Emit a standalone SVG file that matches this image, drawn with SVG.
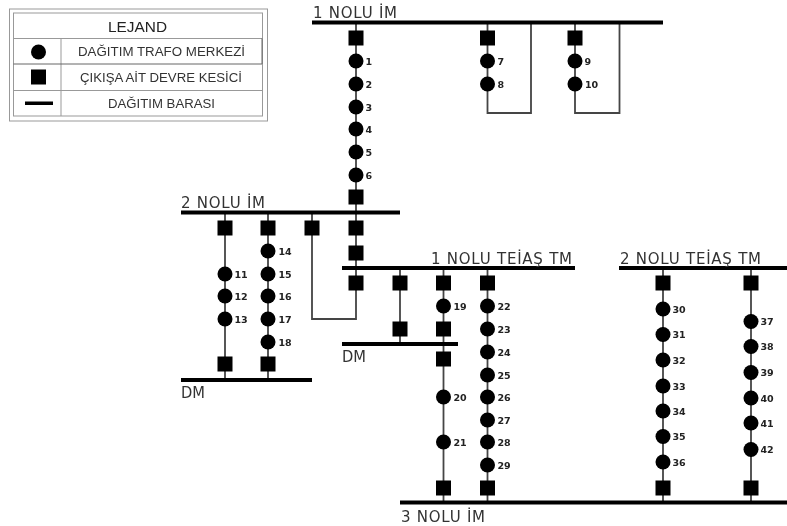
<svg xmlns="http://www.w3.org/2000/svg" width="787" height="526" viewBox="0 0 787 526">
<style>
.bar{stroke:#000;stroke-width:4;fill:none}
.wire{stroke:#444;stroke-width:1.8;fill:none}
.t{font-family:"DejaVu Sans",sans-serif;font-size:15px;fill:#333}
.n{font-family:"DejaVu Sans",sans-serif;font-size:9.5px;font-weight:bold;fill:#222}
.l{font-family:"Liberation Sans",Arial,sans-serif;font-size:12.500px;fill:#333}
.lb{fill:none;stroke:#999;stroke-width:1}
</style>
<defs>
<rect id="s" x="-7.500" y="-7.500" width="15" height="15" fill="#000"/>
<circle id="c" r="7.500" fill="#000"/>
<filter id="b" x="0" y="0" width="100%" height="100%"><feGaussianBlur stdDeviation="0.7"/></filter>
</defs>
<rect width="787" height="526" fill="#fff"/>
<g filter="url(#b)">
<g id="legend">
<rect class="lb" x="9.500" y="9" width="258" height="112"/>
<rect class="lb" x="13.500" y="13" width="249" height="103"/>
<path class="lb" d="M13.500 38.500H262.500M61 38.500V116M13.500 90.500H262.500"/>
<path d="M13.500 64H262M262 38.500V64" stroke="#666" fill="none"/>
<text x="108" y="32" textLength="59" lengthAdjust="spacingAndGlyphs" style="font-family:'Liberation Sans',Arial,sans-serif;font-size:15px;fill:#222">LEJAND</text>
<use href="#c" x="38.500" y="52"/>
<use href="#s" x="38.500" y="77"/>
<rect x="25" y="101.500" width="28" height="3.500" fill="#000"/>
<text class="l" x="78" y="56" textLength="167" lengthAdjust="spacingAndGlyphs">DAĞITIM TRAFO MERKEZİ</text>
<text class="l" x="80" y="82" textLength="162" lengthAdjust="spacingAndGlyphs">ÇIKIŞA AİT DEVRE KESİCİ</text>
<text class="l" x="108" y="107.500" textLength="107" lengthAdjust="spacingAndGlyphs">DAĞITIM BARASI</text>
</g>
<g id="connectors">
<path class="wire" d="M356 22V319H312V212"/>
<path class="wire" d="M487.500 22V113H531V22"/>
<path class="wire" d="M575 22V113H619.500V22"/>
<path class="wire" d="M225 212V380"/>
<path class="wire" d="M268 212V380"/>
<path class="wire" d="M400 268V344"/>
<path class="wire" d="M443.500 268V502"/>
<path class="wire" d="M487.500 268V502"/>
<path class="wire" d="M663 268V502"/>
<path class="wire" d="M751 268V502"/>
</g>
<g id="bus-1"><path class="bar" d="M312 22.500H663"/><text class="t" x="313" y="18" textLength="84" lengthAdjust="spacing">1 NOLU İM</text></g>
<g id="bus-2"><path class="bar" d="M181 212.500H400"/><text class="t" x="181" y="208" textLength="84" lengthAdjust="spacing">2 NOLU İM</text></g>
<g id="bus-teias-1"><path class="bar" d="M342 268H575"/><text class="t" x="431" y="263.500" textLength="141" lengthAdjust="spacing">1 NOLU TEİAŞ TM</text></g>
<g id="bus-teias-2"><path class="bar" d="M619 268H787"/><text class="t" x="620" y="263.500" textLength="141" lengthAdjust="spacing">2 NOLU TEİAŞ TM</text></g>
<g id="bus-dm-left"><path class="bar" d="M181 380H312"/><text class="t" x="181" y="397.500" textLength="24" lengthAdjust="spacingAndGlyphs">DM</text></g>
<g id="bus-dm-mid"><path class="bar" d="M342 344H458"/><text class="t" x="342" y="362" textLength="24" lengthAdjust="spacingAndGlyphs">DM</text></g>
<g id="bus-3"><path class="bar" d="M400 502.500H787"/><text class="t" x="401" y="521.500" textLength="84" lengthAdjust="spacing">3 NOLU İM</text></g>
<g id="breakers">
<use href="#s" x="356" y="38"/><use href="#s" x="356" y="197"/><use href="#s" x="356" y="228"/><use href="#s" x="356" y="253"/><use href="#s" x="356" y="283"/>
<use href="#s" x="487.500" y="38"/><use href="#s" x="575" y="38"/>
<use href="#s" x="225" y="228"/><use href="#s" x="268" y="228"/><use href="#s" x="312" y="228"/>
<use href="#s" x="225" y="364"/><use href="#s" x="268" y="364"/>
<use href="#s" x="400" y="283"/><use href="#s" x="400" y="329"/>
<use href="#s" x="443.500" y="283"/><use href="#s" x="443.500" y="329"/><use href="#s" x="443.500" y="359"/><use href="#s" x="443.500" y="488"/>
<use href="#s" x="487.500" y="283"/><use href="#s" x="487.500" y="488"/>
<use href="#s" x="663" y="283"/><use href="#s" x="663" y="488"/>
<use href="#s" x="751" y="283"/><use href="#s" x="751" y="488"/>
</g>
<g id="tm-1"><use href="#c" x="356" y="61"/><text class="n" x="365.500" y="64.500">1</text></g>
<g id="tm-2"><use href="#c" x="356" y="84"/><text class="n" x="365.500" y="87.500">2</text></g>
<g id="tm-3"><use href="#c" x="356" y="107"/><text class="n" x="365.500" y="110.500">3</text></g>
<g id="tm-4"><use href="#c" x="356" y="129"/><text class="n" x="365.500" y="132.500">4</text></g>
<g id="tm-5"><use href="#c" x="356" y="152"/><text class="n" x="365.500" y="155.500">5</text></g>
<g id="tm-6"><use href="#c" x="356" y="175"/><text class="n" x="365.500" y="178.500">6</text></g>
<g id="tm-7"><use href="#c" x="487.500" y="61"/><text class="n" x="497.500" y="64.500">7</text></g>
<g id="tm-8"><use href="#c" x="487.500" y="84"/><text class="n" x="497.500" y="87.500">8</text></g>
<g id="tm-9"><use href="#c" x="575" y="61"/><text class="n" x="584.500" y="64.500">9</text></g>
<g id="tm-10"><use href="#c" x="575" y="84"/><text class="n" x="585" y="87.500">10</text></g>
<g id="tm-11"><use href="#c" x="225" y="274"/><text class="n" x="234.500" y="277.500">11</text></g>
<g id="tm-12"><use href="#c" x="225" y="296"/><text class="n" x="234.500" y="299.500">12</text></g>
<g id="tm-13"><use href="#c" x="225" y="319"/><text class="n" x="234.500" y="322.500">13</text></g>
<g id="tm-14"><use href="#c" x="268" y="251"/><text class="n" x="278.500" y="254.500">14</text></g>
<g id="tm-15"><use href="#c" x="268" y="274"/><text class="n" x="278.500" y="277.500">15</text></g>
<g id="tm-16"><use href="#c" x="268" y="296"/><text class="n" x="278.500" y="299.500">16</text></g>
<g id="tm-17"><use href="#c" x="268" y="319"/><text class="n" x="278.500" y="322.500">17</text></g>
<g id="tm-18"><use href="#c" x="268" y="342"/><text class="n" x="278.500" y="345.500">18</text></g>
<g id="tm-19"><use href="#c" x="443.500" y="306"/><text class="n" x="453.500" y="309.500">19</text></g>
<g id="tm-20"><use href="#c" x="443.500" y="397"/><text class="n" x="453.500" y="400.500">20</text></g>
<g id="tm-21"><use href="#c" x="443.500" y="442"/><text class="n" x="453.500" y="445.500">21</text></g>
<g id="tm-22"><use href="#c" x="487.500" y="306"/><text class="n" x="497.500" y="309.500">22</text></g>
<g id="tm-23"><use href="#c" x="487.500" y="329"/><text class="n" x="497.500" y="332.500">23</text></g>
<g id="tm-24"><use href="#c" x="487.500" y="352"/><text class="n" x="497.500" y="355.500">24</text></g>
<g id="tm-25"><use href="#c" x="487.500" y="375"/><text class="n" x="497.500" y="378.500">25</text></g>
<g id="tm-26"><use href="#c" x="487.500" y="397"/><text class="n" x="497.500" y="400.500">26</text></g>
<g id="tm-27"><use href="#c" x="487.500" y="420"/><text class="n" x="497.500" y="423.500">27</text></g>
<g id="tm-28"><use href="#c" x="487.500" y="442"/><text class="n" x="497.500" y="445.500">28</text></g>
<g id="tm-29"><use href="#c" x="487.500" y="465"/><text class="n" x="497.500" y="468.500">29</text></g>
<g id="tm-30"><use href="#c" x="663" y="309"/><text class="n" x="672.500" y="312.500">30</text></g>
<g id="tm-31"><use href="#c" x="663" y="334.500"/><text class="n" x="672.500" y="338">31</text></g>
<g id="tm-32"><use href="#c" x="663" y="360"/><text class="n" x="672.500" y="363.500">32</text></g>
<g id="tm-33"><use href="#c" x="663" y="386"/><text class="n" x="672.500" y="389.500">33</text></g>
<g id="tm-34"><use href="#c" x="663" y="411"/><text class="n" x="672.500" y="414.500">34</text></g>
<g id="tm-35"><use href="#c" x="663" y="436.500"/><text class="n" x="672.500" y="440">35</text></g>
<g id="tm-36"><use href="#c" x="663" y="462"/><text class="n" x="672.500" y="465.500">36</text></g>
<g id="tm-37"><use href="#c" x="751" y="321.500"/><text class="n" x="760.500" y="325">37</text></g>
<g id="tm-38"><use href="#c" x="751" y="346.500"/><text class="n" x="760.500" y="350">38</text></g>
<g id="tm-39"><use href="#c" x="751" y="372.500"/><text class="n" x="760.500" y="376">39</text></g>
<g id="tm-40"><use href="#c" x="751" y="398"/><text class="n" x="760.500" y="401.500">40</text></g>
<g id="tm-41"><use href="#c" x="751" y="423"/><text class="n" x="760.500" y="426.500">41</text></g>
<g id="tm-42"><use href="#c" x="751" y="449.500"/><text class="n" x="760.500" y="453">42</text></g>
</g>
</svg>
